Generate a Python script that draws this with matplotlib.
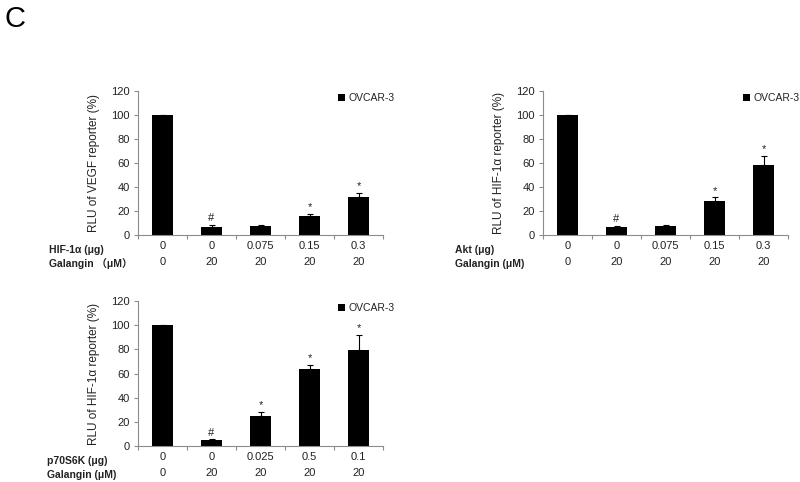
import numpy as np
import matplotlib
matplotlib.use("Agg")
import matplotlib.pyplot as plt

plt.rcParams['font.family'] = ['Liberation Sans', 'Noto Sans CJK SC', 'DejaVu Sans']

# data
dose_vegf = ['0', '0', '0.075', '0.15', '0.3']
dose_akt = ['0', '0', '0.075', '0.15', '0.3']
dose_p70 = ['0', '0', '0.025', '0.5', '0.1']
galangin = ['0', '20', '20', '20', '20']

vegf_vals = [100, 6.9, 7.5, 16.0, 31.5]
vegf_err = [0.3, 1.4, 1.1, 1.7, 3.6]
akt_vals = [100, 6.9, 7.2, 28.3, 58.2]
akt_err = [0.3, 0.6, 1.1, 3.0, 8.0]
p70_vals = [100, 5.0, 24.6, 63.4, 79.4]
p70_err = [0.3, 0.5, 3.8, 3.9, 12.7]

marks_vegf = ['', '#', '', '*', '*']
marks_akt = ['', '#', '', '*', '*']
marks_p70 = ['', '#', '*', '*', '*']

W, H = 800, 482
fig = plt.figure(figsize=(8, 4.82), dpi=100)

axis_col = '#8c8c8c'
txt_col = '#222222'


def panel(rect_px, vals, errs, marks, doses, ylabel, row_label, gal_label, label_x):
    x0, ytop, x1, ybot = rect_px
    ax = fig.add_axes([x0 / W, 1 - ybot / H, (x1 - x0) / W, (ybot - ytop) / H])
    x = np.arange(len(vals))
    ax.bar(x, vals, width=0.41, color='black', label='OVCAR-3', zorder=2)
    ax.errorbar(x, vals, yerr=[np.zeros(len(errs)), errs], fmt='none',
                ecolor='black', elinewidth=0.8, capsize=2.5, capthick=0.8, zorder=3)
    for xi, v, e, m in zip(x, vals, errs, marks):
        if m:
            ax.text(xi, v + e + 1.5, m, ha='center', va='bottom', fontsize=8, color=txt_col)
    ax.set_xlim(-0.5, len(vals) - 0.5)
    ax.set_ylim(0, 120)
    ax.set_yticks(np.arange(0, 121, 20))
    ax.set_xticks(np.arange(-0.5, len(vals), 1.0))
    ax.set_xticklabels([])
    ax.tick_params(axis='y', length=3, width=0.8, color=axis_col, labelsize=8, labelcolor=txt_col, pad=3)
    ax.tick_params(axis='x', length=3, width=0.8, color=axis_col)
    for s in ['top', 'right']:
        ax.spines[s].set_visible(False)
    for s in ['left', 'bottom']:
        ax.spines[s].set_color(axis_col)
        ax.spines[s].set_linewidth(0.8)
    ax.set_ylabel(ylabel, fontsize=8.5, color=txt_col, labelpad=8)
    for xi, d, g in zip(x, doses, galangin):
        ax.annotate(d, (xi, 0), xycoords=('data', 'axes fraction'), xytext=(0, -8),
                    textcoords='offset points', ha='center', va='center', fontsize=8, color=txt_col)
        ax.annotate(g, (xi, 0), xycoords=('data', 'axes fraction'), xytext=(0, -19.5),
                    textcoords='offset points', ha='center', va='center', fontsize=8, color=txt_col)
    fig.text(label_x / W, 1 - (ybot + 15) / H, row_label, fontsize=7.5, fontweight='bold',
             ha='left', va='center', color=txt_col)
    fig.text(label_x / W, 1 - (ybot + 29) / H, gal_label, fontsize=7.5, fontweight='bold',
             ha='left', va='center', color=txt_col)
    leg = ax.legend(loc='center left', bbox_to_anchor=(0.815, 0.95), frameon=False,
                    handlelength=0.7, handleheight=0.7, handletextpad=0.3,
                    fontsize=7.5, borderaxespad=0, borderpad=0)
    for t in leg.get_texts():
        t.set_color(txt_col)
    return ax


panel((138, 91, 383, 235), vegf_vals, vegf_err, marks_vegf, dose_vegf,
      'RLU of VEGF reporter (%)', 'HIF-1α (μg)', 'Galangin （μM）', 49)
panel((543, 91, 788, 235), akt_vals, akt_err, marks_akt, dose_akt,
      'RLU of HIF-1α reporter (%)', 'Akt (μg)', 'Galangin (μM)', 455)
panel((138, 301, 383, 446), p70_vals, p70_err, marks_p70, dose_p70,
      'RLU of HIF-1α reporter (%)', 'p70S6K (μg)', 'Galangin (μM)', 47)

fig.text(4 / W, 1 - 19 / H, 'C', fontsize=21, ha='left', va='center', color='black')

fig.savefig('out.png', dpi=100)
